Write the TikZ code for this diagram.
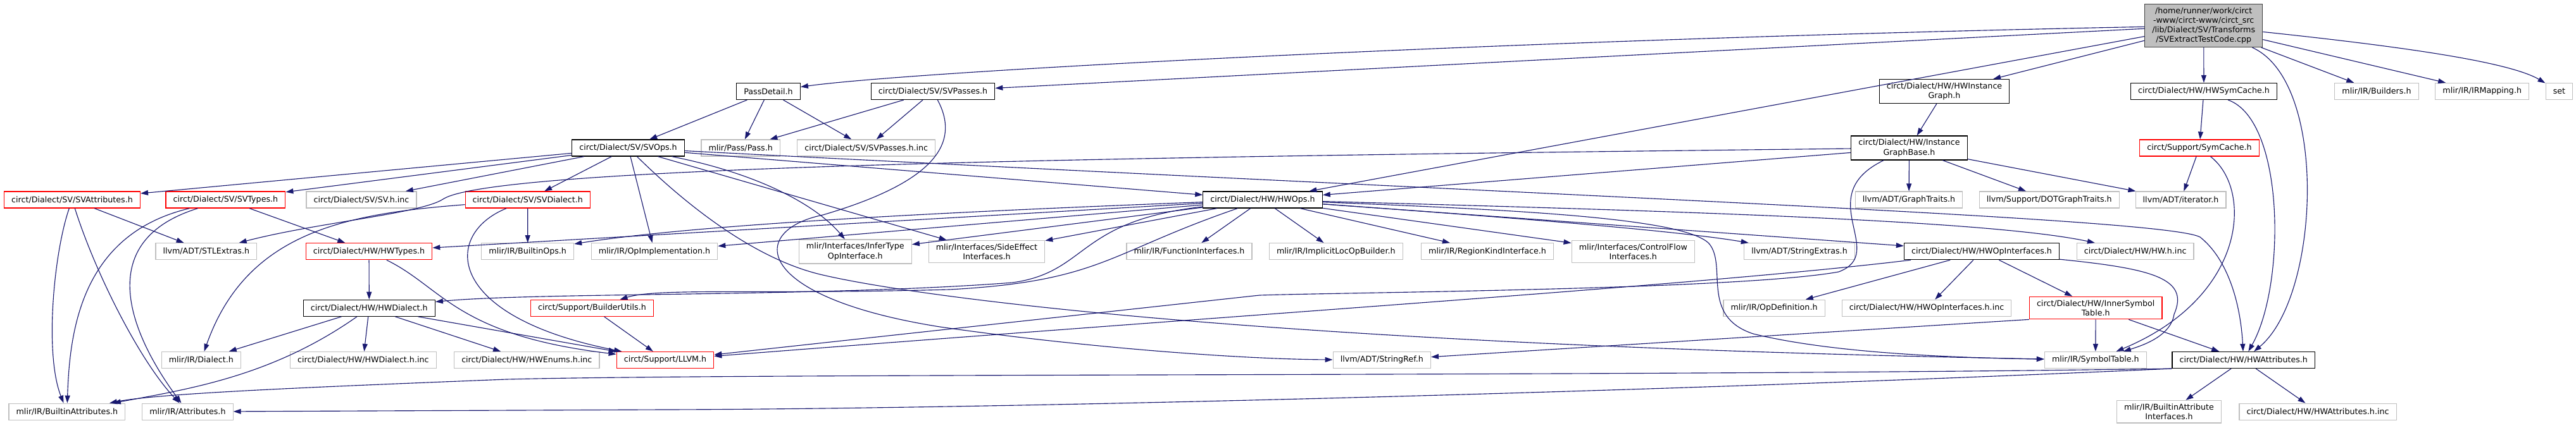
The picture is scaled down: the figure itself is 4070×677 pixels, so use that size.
\documentclass[tikz,border=0pt]{standalone}
\usepackage{fontspec}
\setmainfont{DejaVu Sans}
\usetikzlibrary{arrows.meta}
\definecolor{edgeblue}{HTML}{191970}
\definecolor{extgray}{HTML}{BFBFBF}
\definecolor{truncred}{HTML}{FF0000}
\definecolor{mainfill}{HTML}{BFBFBF}
\definecolor{mainline}{HTML}{404040}
\begin{document}
\begin{tikzpicture}[x=0.75pt, y=-0.75pt,
	filebox/.style={rectangle, draw, line width=0.9pt, fill=white, inner xsep=8.7pt, inner ysep=4pt, minimum height=19.5pt, align=center, font=\fontsize{9.5}{11.3}\selectfont},
	docbox/.style={filebox, draw=black},
	extbox/.style={filebox, draw=extgray},
	truncbox/.style={filebox, draw=truncred},
	mainbox/.style={filebox, draw=mainline, fill=mainfill},
	dep/.style={draw=edgeblue, line width=0.85pt, -{Triangle[length=9pt,width=6pt]}}]
	\useasboundingbox (0,0) rectangle (4070,677);
	\node[mainbox] (main) at (3481.7,40.5) {/home/runner/work/circt\\-www/circt-www/circt\_src\\/lib/Dialect/SV/Transforms\\/SVExtractTestCode.cpp};
	\node[docbox] (passdetail) at (1214,144.5) {PassDetail.h};
	\node[docbox] (svpasses) at (1474,144.5) {circt/Dialect/SV/SVPasses.h};
	\node[docbox] (hwinstgraph) at (3072,144.5) {circt/Dialect/HW/HWInstance\\Graph.h};
	\node[docbox] (hwsymcache) at (3482,144.5) {circt/Dialect/HW/HWSymCache.h};
	\node[extbox] (builders) at (3755,144.5) {mlir/IR/Builders.h};
	\node[extbox] (irmapping) at (3921.7,144.5) {mlir/IR/IRMapping.h};
	\node[extbox] (stdset) at (4043.4,144.5) {set};
	\node[docbox] (svops) at (992.6,234) {circt/Dialect/SV/SVOps.h};
	\node[extbox] (pass) at (1170.2,234) {mlir/Pass/Pass.h};
	\node[extbox] (svpassesinc) at (1368.7,234) {circt/Dialect/SV/SVPasses.h.inc};
	\node[docbox] (instgraphbase) at (3016.5,234) {circt/Dialect/HW/Instance\\GraphBase.h};
	\node[truncbox] (symcache) at (3475,234) {circt/Support/SymCache.h};
	\node[truncbox] (svattrs) at (114,316) {circt/Dialect/SV/SVAttributes.h};
	\node[truncbox] (svtypes) at (356.4,316) {circt/Dialect/SV/SVTypes.h};
	\node[extbox] (svinc) at (571,316) {circt/Dialect/SV/SV.h.inc};
	\node[truncbox] (svdialect) at (833.8,316) {circt/Dialect/SV/SVDialect.h};
	\node[docbox] (hwops) at (1995,316) {circt/Dialect/HW/HWOps.h};
	\node[extbox] (graphtraits) at (3016,316) {llvm/ADT/GraphTraits.h};
	\node[extbox] (dotgraphtraits) at (3237.7,316) {llvm/Support/DOTGraphTraits.h};
	\node[extbox] (iterator) at (3445.5,316) {llvm/ADT/iterator.h};
	\node[extbox] (stlextras) at (325.8,397.7) {llvm/ADT/STLExtras.h};
	\node[truncbox] (hwtypes) at (583,397.7) {circt/Dialect/HW/HWTypes.h};
	\node[extbox] (builtinops) at (833.7,397.7) {mlir/IR/BuiltinOps.h};
	\node[extbox] (opimpl) at (1034,397.7) {mlir/IR/OpImplementation.h};
	\node[extbox] (infertype) at (1351.3,398) {mlir/Interfaces/InferType\\OpInterface.h};
	\node[extbox] (sideeffect) at (1559,398) {mlir/Interfaces/SideEffect\\Interfaces.h};
	\node[extbox] (funcifaces) at (1879,397.7) {mlir/IR/FunctionInterfaces.h};
	\node[extbox] (implicitloc) at (2110.8,397.7) {mlir/IR/ImplicitLocOpBuilder.h};
	\node[extbox] (regionkind) at (2350,397.7) {mlir/IR/RegionKindInterface.h};
	\node[extbox] (controlflow) at (2580.3,398) {mlir/Interfaces/ControlFlow\\Interfaces.h};
	\node[extbox] (stringextras) at (2843,397.7) {llvm/ADT/StringExtras.h};
	\node[docbox] (hwopifaces) at (3131,397.7) {circt/Dialect/HW/HWOpInterfaces.h};
	\node[extbox] (hwinc) at (3373.6,397.7) {circt/Dialect/HW/HW.h.inc};
	\node[docbox] (hwdialect) at (583.3,487.3) {circt/Dialect/HW/HWDialect.h};
	\node[truncbox] (builderutils) at (935.5,487.3) {circt/Support/BuilderUtils.h};
	\node[extbox] (opdef) at (2803,487.3) {mlir/IR/OpDefinition.h};
	\node[extbox] (hwopifacesinc) at (3044,487.3) {circt/Dialect/HW/HWOpInterfaces.h.inc};
	\node[truncbox] (innersym) at (3311.2,487) {circt/Dialect/HW/InnerSymbol\\Table.h};
	\node[extbox] (dialect) at (317.8,569.5) {mlir/IR/Dialect.h};
	\node[extbox] (hwdialectinc) at (573.8,569.5) {circt/Dialect/HW/HWDialect.h.inc};
	\node[extbox] (hwenumsinc) at (832.3,569.5) {circt/Dialect/HW/HWEnums.h.inc};
	\node[truncbox] (llvm) at (1051,569.5) {circt/Support/LLVM.h};
	\node[extbox] (stringref) at (2183.3,569.5) {llvm/ADT/StringRef.h};
	\node[extbox] (symboltable) at (3310.8,569.5) {mlir/IR/SymbolTable.h};
	\node[docbox] (hwattrs) at (3544.7,569.5) {circt/Dialect/HW/HWAttributes.h};
	\node[extbox] (builtinattrs) at (105.9,651.2) {mlir/IR/BuiltinAttributes.h};
	\node[extbox] (attributes) at (296.4,651.2) {mlir/IR/Attributes.h};
	\node[extbox] (builtinattrifaces) at (3427,651.2) {mlir/IR/BuiltinAttribute\\Interfaces.h};
	\node[extbox] (hwattrsinc) at (3662,651.2) {circt/Dialect/HW/HWAttributes.h.inc};
	% includes of the source file
	\draw[dep] (main) .. controls (2400,62) and (1450,112) .. (passdetail);
	\draw[dep] (main) -- (svpasses);
	\draw[dep] (main) -- (hwops);
	\draw[dep] (main) -- (hwinstgraph);
	\draw[dep] (main) -- (hwsymcache);
	\draw[dep] (main) .. controls (3680,130) and (3665,470) .. (hwattrs);
	\draw[dep] (main) -- (builders);
	\draw[dep] (main) -- (irmapping);
	\draw[dep] (main) .. controls (3760,70) and (3960,95) .. (stdset);
	\draw[dep] (passdetail) -- (svops);
	\draw[dep] (passdetail) -- (pass);
	\draw[dep] (passdetail) -- (svpassesinc);
	\draw[dep] (svpasses) -- (pass);
	\draw[dep] (svpasses) -- (svpassesinc);
	\draw[dep] (svpasses) .. controls (1520,230) and (1470,290) .. (1300,340) .. controls (1180,365) and (1190,470) .. (1485,517) .. controls (1700,548) and (1950,568) .. (stringref);
	\draw[dep] (hwinstgraph) -- (instgraphbase);
	\draw[dep] (hwsymcache) -- (symcache);
	\draw[dep] (hwsymcache) .. controls (3610,190) and (3612,450) .. (hwattrs);
	\draw[dep] (symcache) -- (iterator);
	\draw[dep] (symcache) .. controls (3560,300) and (3550,470) .. (symboltable);
	% SV dialect
	\draw[dep] (svops) -- (svattrs);
	\draw[dep] (svops) -- (svtypes);
	\draw[dep] (svops) -- (svinc);
	\draw[dep] (svops) -- (svdialect);
	\draw[dep] (svops) -- (hwops);
	\draw[dep] (svops) .. controls (2500,312) and (3420,345) .. (3476,375) .. controls (3520,410) and (3540,480) .. (hwattrs);
	\draw[dep] (svops) -- (opimpl);
	\draw[dep] (svops) .. controls (1080,320) and (1190,410) .. (1300,435) .. controls (1450,470) and (2000,545) .. (symboltable);
	\draw[dep] (svops) .. controls (1200,275) and (1290,325) .. (infertype);
	\draw[dep] (svops) -- (sideeffect);
	\draw[dep] (svattrs) .. controls (85,400) and (70,560) .. (builtinattrs);
	\draw[dep] (svattrs) .. controls (150,430) and (220,570) .. (attributes);
	\draw[dep] (svattrs) -- (stlextras);
	\draw[dep] (svtypes) .. controls (130,370) and (110,520) .. (builtinattrs);
	\draw[dep] (svtypes) .. controls (150,380) and (200,520) .. (attributes);
	\draw[dep] (svtypes) -- (hwtypes);
	\draw[dep] (svdialect) .. controls (550,338) and (390,365) .. (dialect);
	\draw[dep] (svdialect) -- (builtinops);
	\draw[dep] (svdialect) .. controls (700,370) and (700,500) .. (llvm);
	% instance graph
	\draw[dep] (instgraphbase) .. controls (1800,248) and (780,262) .. (700,315) .. controls (665,338) and (500,352) .. (stlextras);
	\draw[dep] (instgraphbase) -- (hwops);
	\draw[dep] (instgraphbase) -- (graphtraits);
	\draw[dep] (instgraphbase) -- (dotgraphtraits);
	\draw[dep] (instgraphbase) -- (iterator);
	\draw[dep] (instgraphbase) .. controls (2860,310) and (2985,400) .. (2905,430) .. controls (2750,458) and (2150,462) .. (1990,467) -- (llvm);
	% HW ops
	\draw[dep] (hwops) -- (hwtypes);
	\draw[dep] (hwops) .. controls (1500,335) and (1100,355) .. (builtinops);
	\draw[dep] (hwops) -- (opimpl);
	\draw[dep] (hwops) -- (infertype);
	\draw[dep] (hwops) -- (sideeffect);
	\draw[dep] (hwops) -- (funcifaces);
	\draw[dep] (hwops) -- (implicitloc);
	\draw[dep] (hwops) -- (regionkind);
	\draw[dep] (hwops) -- (controlflow);
	\draw[dep] (hwops) .. controls (2400,345) and (2650,365) .. (stringextras);
	\draw[dep] (hwops) -- (hwopifaces);
	\draw[dep] (hwops) .. controls (2700,335) and (3150,350) .. (hwinc);
	\draw[dep] (hwops) .. controls (1700,350) and (1720,430) .. (1600,447) .. controls (1300,470) and (850,462) .. (hwdialect);
	\draw[dep] (hwops) .. controls (1750,400) and (1740,445) .. (1500,458) .. controls (1200,466) and (1040,455) .. (builderutils);
	\draw[dep] (hwops) .. controls (2400,332) and (2660,345) .. (2700,385) .. controls (2730,420) and (2685,500) .. (2770,528) .. controls (2900,560) and (3100,566) .. (symboltable);
	\draw[dep] (hwopifaces) -- (opdef);
	\draw[dep] (hwopifaces) .. controls (2700,450) and (2000,495) .. (llvm);
	\draw[dep] (hwopifaces) -- (hwopifacesinc);
	\draw[dep] (hwopifaces) -- (innersym);
	\draw[dep] (hwopifaces) .. controls (3400,425) and (3460,440) .. (3435,497) .. controls (3430,530) and (3390,545) .. (symboltable);
	\draw[dep] (innersym) -- (symboltable);
	\draw[dep] (innersym) -- (hwattrs);
	\draw[dep] (innersym.south west) -- (stringref);
	\draw[dep] (hwattrs.south west) .. controls (2600,596) and (1200,590) .. (800,600) .. controls (500,612) and (250,622) .. (builtinattrs);
	\draw[dep] (hwattrs.south west) .. controls (2500,625) and (1500,647) .. (1050,648) -- (attributes);
	\draw[dep] (hwattrs) -- (builtinattrifaces);
	\draw[dep] (hwattrs) -- (hwattrsinc);
	\draw[dep] (hwtypes) -- (hwdialect);
	\draw[dep] (hwtypes) .. controls (700,455) and (720,530) .. (llvm);
	\draw[dep] (hwdialect) -- (dialect);
	\draw[dep] (hwdialect) .. controls (430,595) and (300,615) .. (builtinattrs);
	\draw[dep] (hwdialect) -- (hwdialectinc);
	\draw[dep] (hwdialect) -- (hwenumsinc);
	\draw[dep] (hwdialect) -- (llvm);
	\draw[dep] (builderutils) -- (llvm);
\end{tikzpicture}
\end{document}
